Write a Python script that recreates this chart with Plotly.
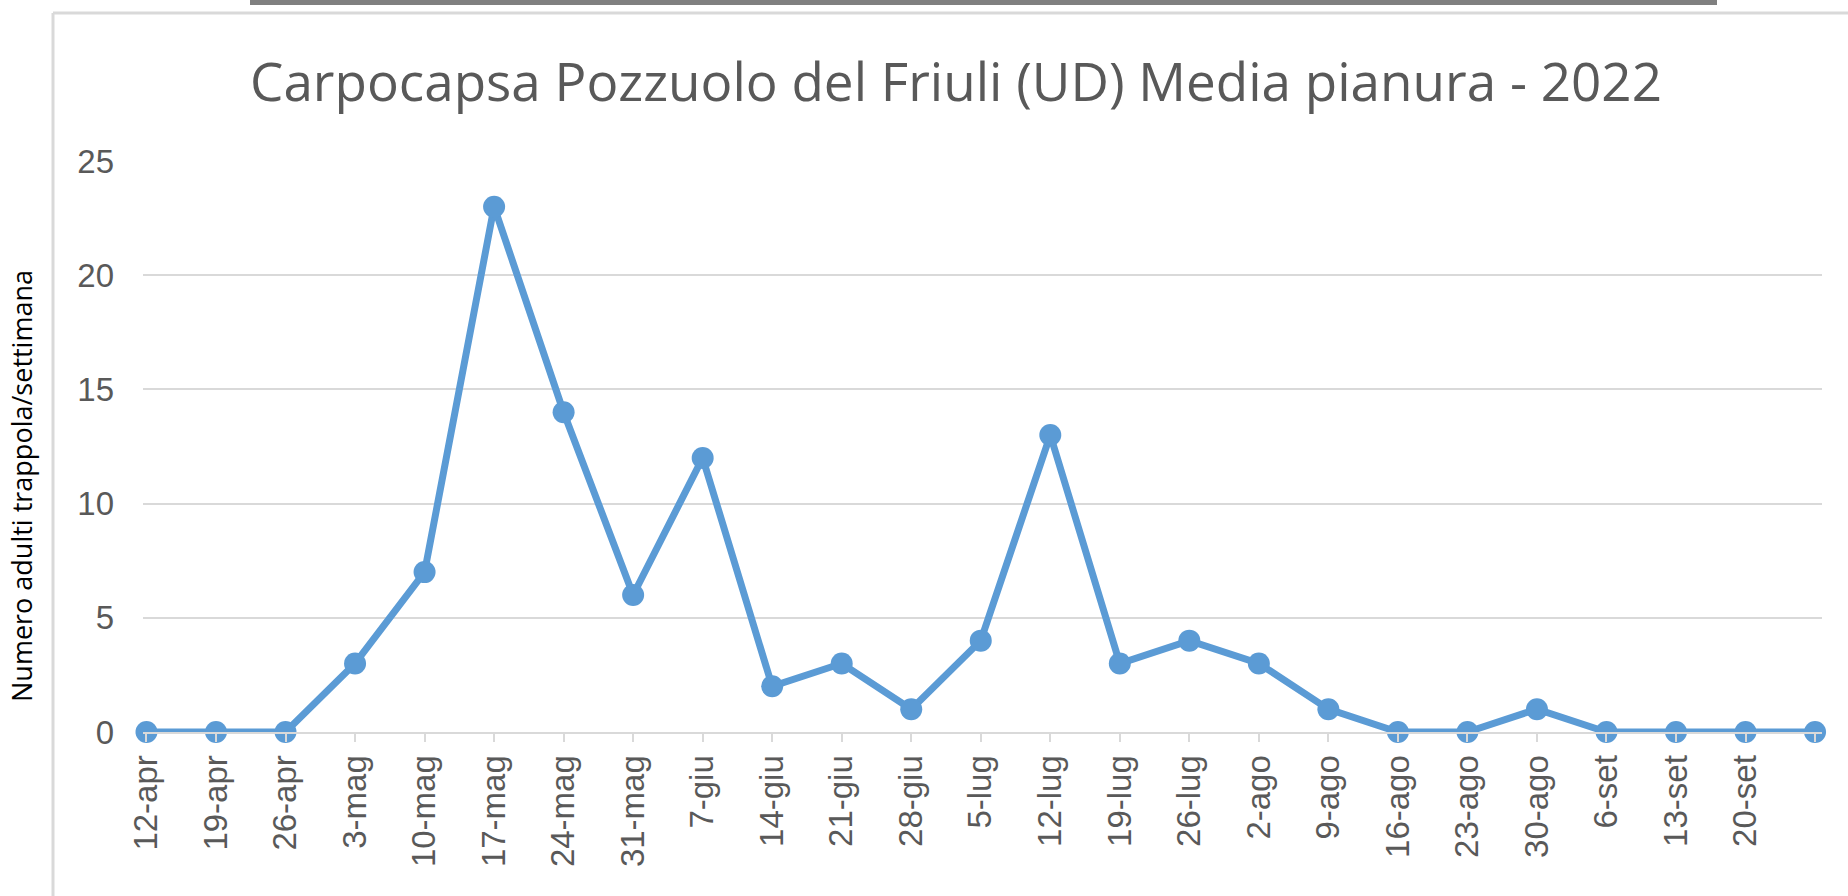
import plotly.graph_objects as go

# ---- data ----
week_labels = ["12-apr", "19-apr", "26-apr", "3-mag", "10-mag", "17-mag", "24-mag", "31-mag",
               "7-giu", "14-giu", "21-giu", "28-giu", "5-lug", "12-lug", "19-lug", "26-lug",
               "2-ago", "9-ago", "16-ago", "23-ago", "30-ago", "6-set", "13-set", "20-set", ""]
adults = [0, 0, 0, 3, 7, 23, 14, 6, 12, 2, 3, 1, 4, 13, 3, 4, 3, 1, 0, 0, 1, 0, 0, 0, 0]
y_ticks = [0, 5, 10, 15, 20, 25]

title_text = "Carpocapsa Pozzuolo del Friuli (UD) Media pianura - 2022"
ytitle_text = "Numero adulti trappola/settimana"

# ---- layout geometry (pixels) ----
W, H = 1848, 896
L, R, T, B = 143, 1822, 161, 732
pw, ph = R - L, B - T


def px(x):
    return (x - L) / pw


def py(y):
    return (B - y) / ph


xs = list(range(len(adults)))

fig = go.Figure()
fig.add_trace(go.Scatter(
    x=xs, y=adults, mode="lines+markers",
    line=dict(color="#5B9BD5", width=7),
    marker=dict(color="#5B9BD5", size=22),
    cliponaxis=False, showlegend=False, hoverinfo="y"
))

fig.update_layout(
    width=W, height=H,
    margin=dict(l=L, r=W - R, t=T, b=H - B, autoexpand=False),
    paper_bgcolor="white", plot_bgcolor="white",
    title=dict(text=title_text, x=956 / W, y=1 - 82 / H, xanchor="center", yanchor="middle",
               xref="container", yref="container",
               font=dict(family="Open Sans", size=53, color="#595959")),
    xaxis=dict(
        range=[-0.05, 24.1], tickmode="array", tickvals=xs, ticktext=week_labels,
        tickangle=-90, showgrid=False, zeroline=False,
        showline=True, linecolor="#D9D9D9", linewidth=2,
        ticks="outside", ticklen=8, tickcolor="#D9D9D9", tickwidth=2,
        tickfont=dict(family="Liberation Sans", size=33, color="#595959"),
        ticklabelstandoff=0,
    ),
    yaxis=dict(
        range=[0, 25], tickmode="array", tickvals=y_ticks,
        showgrid=True, gridcolor="#D9D9D9", gridwidth=2,
        zeroline=False, showline=False,
        tickfont=dict(family="Liberation Sans", size=33, color="#595959"),
        ticklabelstandoff=28,
    ),
    annotations=[dict(
        text=ytitle_text, textangle=-90, xref="paper", yref="paper",
        x=px(21), y=py(486), xanchor="center", yanchor="middle", showarrow=False,
        font=dict(family="Open Sans", size=27, color="black"),
    )],
    shapes=[
        dict(type="line", xref="paper", yref="paper", x0=px(53), x1=px(53), y0=py(13), y1=py(H),
             line=dict(color="#D9D9D9", width=3)),
        dict(type="line", xref="paper", yref="paper", x0=px(53), x1=px(W), y0=py(13), y1=py(13),
             line=dict(color="#D9D9D9", width=3)),
        dict(type="rect", xref="paper", yref="paper", x0=px(250), x1=px(1717), y0=py(0), y1=py(5),
             fillcolor="#808080", line=dict(width=0)),
    ],
)

fig.write_html("out.html", config={"displayModeBar": False},
               post_script="document.body.style.margin='0';document.body.style.overflow='hidden';")
